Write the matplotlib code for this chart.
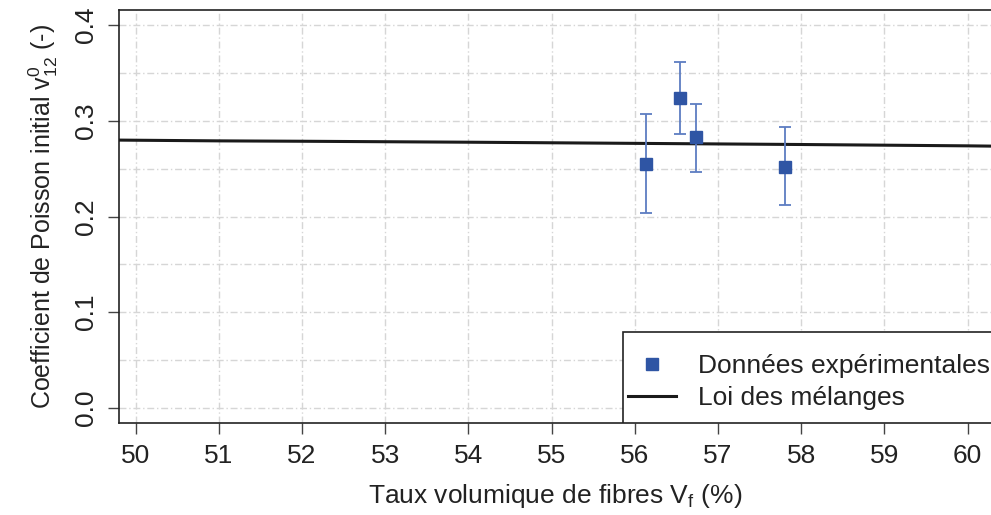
import numpy as np
import matplotlib
matplotlib.use('Agg')
import matplotlib.pyplot as plt
from matplotlib.patches import Rectangle

plt.rcParams['font.family'] = ['Liberation Sans', 'DejaVu Sans']
plt.rcParams['mathtext.fontset'] = 'custom'
plt.rcParams['mathtext.rm'] = 'Liberation Sans'

# experimental data
vf_exp = [56.13, 56.54, 56.74, 57.80]
nu_exp = [0.255, 0.324, 0.283, 0.252]
nu_err_low = [0.051, 0.038, 0.036, 0.040]
nu_err_high = [0.052, 0.037, 0.035, 0.042]

# rule of mixtures
vf_law = [49.8, 51, 52, 53, 54, 55, 56, 57, 58, 59, 60, 60.3]
nu_law = [0.2798, 0.2790, 0.2786, 0.2781, 0.2776, 0.2770, 0.2764, 0.2758, 0.2752, 0.2745, 0.2738, 0.2735]

x_ticks = list(range(50, 61))
y_ticks = [0.0, 0.1, 0.2, 0.3, 0.4]

W, H = 991, 515
fig = plt.figure(figsize=(W / 100, H / 100), dpi=100)
ax = fig.add_axes([119 / W, 1 - 423 / H, 1 - 119 / W, (423 - 10) / H])

ax.set_xlim(49.8, 60.28)
ax.set_ylim(-0.0157, 0.4157)

# grid
for x in x_ticks:
    ax.axvline(x, color='#d6d6d6', lw=1, ls=(0, (5, 2, 1, 2)), zorder=0)
for y in np.arange(0, 0.41, 0.05):
    ax.axhline(y, color='#d6d6d6', lw=1, ls=(0, (5, 2, 1, 2)), zorder=0)

ax.errorbar(vf_exp, nu_exp, yerr=[nu_err_low, nu_err_high], fmt='none',
            ecolor='#5d7dc2', elinewidth=1.3, capsize=4.5, capthick=1.3, zorder=4)
ax.plot(vf_exp, nu_exp, 's', color='#2f55a4', ms=9, ls='none',
        label='Données expérimentales', zorder=5)
ax.plot(vf_law, nu_law, color='#1a1a1a', lw=2.2, label='Loi des mélanges', zorder=3)

ax.set_xticks(x_ticks)
ax.set_yticks(y_ticks)
ax.set_yticklabels(['0.0', '0.1', '0.2', '0.3', '0.4'], rotation=90, va='center')
ax.tick_params(axis='both', labelsize=19, length=8, width=1, color='#444444',
               labelcolor='#222222', direction='out')
ax.tick_params(axis='x', pad=7)
ax.tick_params(axis='y', pad=7)

for side in ['left', 'bottom', 'top']:
    ax.spines[side].set_linewidth(1.2)
    ax.spines[side].set_color('#222222')
ax.spines['right'].set_visible(False)

ax.set_xlabel('Taux volumique de fibres $\\mathregular{V_f}$ (%)', fontsize=19,
              color='#222222', labelpad=10)
ax.set_ylabel('Coefficient de Poisson initial $\\mathregular{v_{12}^{0}}$ (-)', fontsize=18,
              color='#222222', labelpad=10)

# legend box (runs off the right edge like the original)
x0 = (623 - 119) / 872
h = (423 - 332) / 413
ax.add_patch(Rectangle((x0, 0), 0.6, h, transform=ax.transAxes, facecolor='white',
                       edgecolor='#222222', lw=1.2, zorder=6, clip_on=True))
leg = ax.legend(loc='center left', bbox_to_anchor=(628 / W, 1 - 382 / H),
                bbox_transform=fig.transFigure, fontsize=19, frameon=False,
                borderpad=0, handlelength=1.8, handletextpad=0.85, labelspacing=0.3,
                borderaxespad=0)
leg.set_zorder(7)
for t in leg.get_texts():
    t.set_color('#222222')

fig.savefig('out.png', dpi=100)
